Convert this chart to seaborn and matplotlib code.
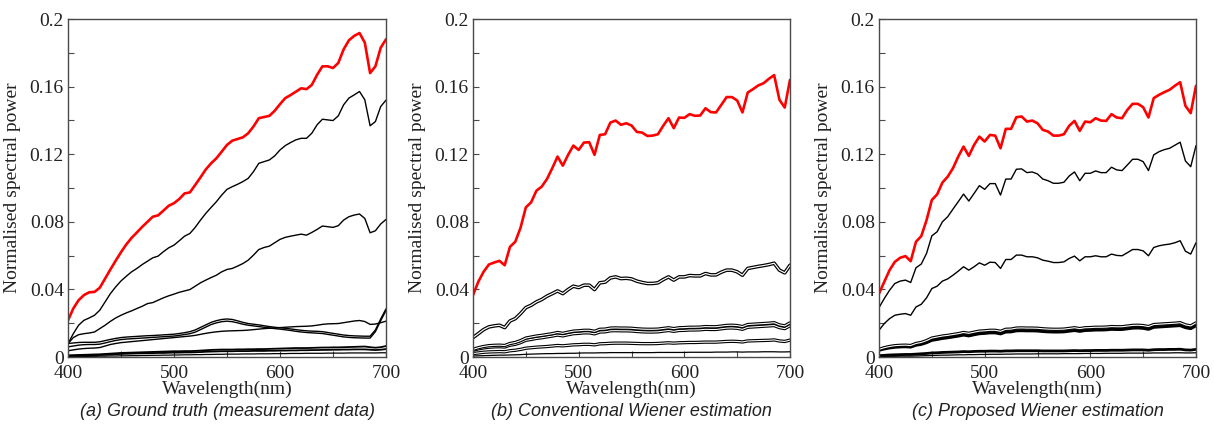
import matplotlib
matplotlib.use("Agg")
import matplotlib.pyplot as plt
import seaborn as sns
from matplotlib.ticker import FixedLocator, MultipleLocator

# ---------------- data ----------------
WAVELENGTH = list(range(400, 701, 5))  # nm, 61 samples

# (a) Ground truth (measurement data)
A_RED = [.0217, .0287, .0336, .0366, .0383, .0385, .0410, .0464, .0518, .0570,
         .0620, .0666, .0705, .0737, .0770, .0800, .0830, .0838, .0866, .0895,
         .0910, .0935, .0968, .0974, .1018, .1063, .1110, .1146, .1176, .1215,
         .1255, .1280, .1290, .1300, .1324, .1364, .1413, .1420, .1427, .1457,
         .1496, .1532, .1550, .1570, .1590, .1585, .1610, .1670, .1720, .1720,
         .1710, .1740, .1820, .1874, .1900, .1917, .1860, .1680, .1720, .1830,
         .1880]
A_BLK1 = [.0079, .0138, .0188, .0217, .0231, .0247, .0277, .0326, .0375, .0415,
          .0450, .0478, .0504, .0524, .0547, .0567, .0587, .0597, .0623, .0646,
          .0662, .0688, .0715, .0731, .0767, .0810, .0850, .0885, .0919, .0958,
          .0992, .1008, .1022, .1038, .1057, .1097, .1146, .1156, .1166, .1190,
          .1225, .1251, .1269, .1285, .1294, .1294, .1324, .1374, .1407, .1403,
          .1399, .1427, .1492, .1532, .1551, .1571, .1522, .1368, .1393, .1482,
          .1520]
A_BLK2 = [.0079, .0115, .0132, .0138, .0142, .0148, .0168, .0188, .0211, .0231,
          .0247, .0261, .0273, .0287, .0300, .0316, .0322, .0336, .0350, .0362,
          .0372, .0383, .0391, .0399, .0419, .0439, .0455, .0470, .0484, .0504,
          .0518, .0524, .0538, .0553, .0573, .0603, .0636, .0648, .0656, .0676,
          .0696, .0708, .0715, .0721, .0727, .0721, .0737, .0755, .0775, .0771,
          .0767, .0777, .0810, .0830, .0840, .0846, .0820, .0735, .0747, .0787,
          .0814]
A_BLK3 = [.0080, .0083, .0086, .0087, .0087, .0087, .0090, .0097, .0104, .0110,
          .0115, .0118, .0120, .0122, .0124, .0126, .0127, .0129, .0131, .0133,
          .0135, .0139, .0144, .0150, .0160, .0175, .0190, .0205, .0215, .0222,
          .0225, .0222, .0214, .0205, .0198, .0194, .0190, .0185, .0180, .0176,
          .0173, .0170, .0166, .0162, .0158, .0155, .0153, .0152, .0150, .0145,
          .0140, .0135, .0130, .0127, .0125, .0124, .0123, .0123, .0160, .0225,
          .0285]
A_BLK4 = [.0060, .0065, .0070, .0073, .0074, .0074, .0076, .0083, .0091, .0098,
          .0103, .0106, .0108, .0110, .0112, .0114, .0116, .0118, .0120, .0122,
          .0124, .0128, .0133, .0138, .0147, .0162, .0177, .0192, .0202, .0209,
          .0212, .0209, .0202, .0194, .0188, .0184, .0180, .0176, .0172, .0168,
          .0165, .0161, .0157, .0152, .0148, .0145, .0143, .0141, .0139, .0134,
          .0129, .0124, .0119, .0116, .0114, .0113, .0112, .0112, .0150, .0215,
          .0275]
A_BLK5 = [.0037, .0042, .0047, .0050, .0052, .0053, .0056, .0065, .0074, .0080,
          .0085, .0088, .0091, .0094, .0097, .0100, .0103, .0106, .0109, .0112,
          .0115, .0118, .0121, .0124, .0128, .0134, .0140, .0145, .0149, .0152,
          .0154, .0155, .0156, .0157, .0159, .0162, .0165, .0168, .0170, .0172,
          .0174, .0176, .0178, .0180, .0181, .0182, .0184, .0188, .0193, .0196,
          .0197, .0198, .0203, .0208, .0213, .0216, .0210, .0193, .0195, .0203,
          .0212]
A_LOW1 = [.0010, .0011, .0012, .0013, .0014, .0015, .0016, .0018, .0020, .0022,
          .0024, .0025, .0026, .0027, .0028, .0029, .0030, .0031, .0032, .0033,
          .0034, .0034, .0035, .0035, .0036, .0038, .0040, .0042, .0043, .0044,
          .0044, .0044, .0045, .0045, .0046, .0046, .0047, .0047, .0048, .0049,
          .0050, .0051, .0052, .0053, .0053, .0053, .0054, .0055, .0056, .0056,
          .0057, .0057, .0058, .0059, .0060, .0061, .0062, .0058, .0055, .0058,
          .0065]
A_LOW2 = [.0006, .0007, .0008, .0009, .0010, .0011, .0012, .0013, .0015, .0017,
          .0018, .0019, .0020, .0021, .0022, .0022, .0023, .0024, .0024, .0025,
          .0026, .0026, .0027, .0027, .0028, .0029, .0031, .0032, .0033, .0034,
          .0034, .0034, .0035, .0035, .0035, .0036, .0036, .0036, .0037, .0037,
          .0038, .0038, .0039, .0039, .0040, .0040, .0041, .0041, .0042, .0042,
          .0043, .0043, .0044, .0044, .0045, .0045, .0045, .0043, .0041, .0043,
          .0047]
A_LOW3 = [.0002, .0002, .0003, .0003, .0004, .0004, .0005, .0005, .0006, .0006,
          .0007, .0007, .0008, .0008, .0009, .0009, .0010, .0010, .0011, .0011,
          .0012, .0012, .0013, .0013, .0014, .0014, .0015, .0015, .0016, .0016,
          .0017, .0017, .0017, .0018, .0018, .0018, .0019, .0019, .0019, .0020,
          .0020, .0020, .0021, .0021, .0021, .0022, .0022, .0022, .0022, .0023,
          .0023, .0023, .0023, .0024, .0024, .0024, .0024, .0024, .0024, .0025,
          .0025]

# (b) Conventional Wiener estimation
B_RED = [.0366, .0445, .0504, .0547, .0559, .0569, .0543, .0652, .0682, .0765,
         .0885, .0915, .0984, .1008, .1053, .1117, .1186, .1132, .1196, .1251,
         .1225, .1269, .1271, .1196, .1314, .1318, .1387, .1399, .1374, .1383,
         .1370, .1332, .1328, .1308, .1310, .1318, .1368, .1413, .1354, .1417,
         .1415, .1437, .1427, .1429, .1472, .1449, .1447, .1492, .1538, .1538,
         .1518, .1447, .1565, .1585, .1607, .1620, .1646, .1668, .1522, .1476,
         .1640]
B_BLK1 = [.0115, .0138, .0162, .0178, .0184, .0188, .0174, .0213, .0227, .0257,
          .0292, .0306, .0326, .0340, .0360, .0375, .0391, .0375, .0399, .0419,
          .0411, .0425, .0425, .0399, .0439, .0443, .0468, .0474, .0464, .0466,
          .0462, .0449, .0441, .0435, .0435, .0439, .0458, .0474, .0455, .0474,
          .0474, .0482, .0480, .0480, .0494, .0486, .0486, .0502, .0514, .0514,
          .0504, .0484, .0524, .0530, .0536, .0541, .0547, .0555, .0514, .0498,
          .0543]
B_BLK2 = [.0045, .0055, .0062, .0067, .0069, .0070, .0068, .0080, .0086, .0097,
          .0112, .0118, .0124, .0128, .0133, .0138, .0145, .0140, .0147, .0153,
          .0155, .0158, .0158, .0152, .0164, .0165, .0171, .0172, .0171, .0171,
          .0170, .0167, .0165, .0164, .0164, .0165, .0169, .0173, .0168, .0173,
          .0174, .0176, .0176, .0177, .0180, .0179, .0179, .0183, .0187, .0188,
          .0186, .0180, .0192, .0194, .0196, .0198, .0200, .0203, .0190, .0184,
          .0202]
B_BLK3 = [.0040, .0048, .0054, .0058, .0060, .0061, .0059, .0070, .0075, .0085,
          .0099, .0104, .0110, .0114, .0119, .0124, .0130, .0125, .0132, .0138,
          .0140, .0143, .0143, .0137, .0148, .0149, .0155, .0156, .0155, .0155,
          .0154, .0151, .0149, .0148, .0148, .0149, .0153, .0157, .0152, .0157,
          .0158, .0160, .0160, .0161, .0164, .0163, .0163, .0167, .0171, .0172,
          .0170, .0164, .0176, .0178, .0180, .0182, .0184, .0186, .0174, .0168,
          .0185]
B_BLK4 = [.0020, .0024, .0028, .0030, .0031, .0032, .0031, .0037, .0040, .0045,
          .0052, .0055, .0058, .0060, .0062, .0065, .0068, .0066, .0069, .0072,
          .0073, .0075, .0075, .0072, .0078, .0079, .0081, .0082, .0082, .0082,
          .0081, .0080, .0079, .0079, .0079, .0080, .0082, .0084, .0082, .0084,
          .0085, .0086, .0086, .0087, .0088, .0088, .0088, .0090, .0092, .0093,
          .0092, .0089, .0095, .0096, .0097, .0098, .0099, .0101, .0095, .0092,
          .0100]
B_LOW = [.0006, .0007, .0008, .0009, .0010, .0011, .0011, .0012, .0013, .0014,
         .0016, .0017, .0018, .0019, .0020, .0020, .0021, .0021, .0022, .0022,
         .0023, .0024, .0024, .0024, .0025, .0025, .0026, .0026, .0026, .0026,
         .0026, .0026, .0026, .0026, .0026, .0027, .0027, .0027, .0027, .0027,
         .0027, .0028, .0028, .0028, .0028, .0028, .0029, .0029, .0029, .0030,
         .0030, .0029, .0030, .0030, .0030, .0031, .0031, .0031, .0030, .0030,
         .0031]

# (c) Proposed Wiener estimation
C_RED = [.0375, .0445, .0514, .0563, .0587, .0597, .0567, .0682, .0715, .0810,
         .0929, .0962, .1032, .1067, .1117, .1186, .1245, .1190, .1255, .1304,
         .1275, .1314, .1310, .1235, .1350, .1350, .1419, .1423, .1393, .1399,
         .1383, .1344, .1334, .1310, .1310, .1318, .1368, .1397, .1338, .1393,
         .1389, .1413, .1399, .1397, .1437, .1417, .1413, .1462, .1498, .1498,
         .1478, .1417, .1532, .1551, .1567, .1581, .1605, .1626, .1486, .1443,
         .1605]
C_BLK1 = [.0292, .0346, .0395, .0435, .0449, .0455, .0441, .0528, .0550, .0613,
          .0717, .0741, .0800, .0830, .0875, .0919, .0964, .0923, .0968, .1014,
          .0992, .1026, .1026, .0958, .1053, .1053, .1111, .1113, .1091, .1095,
          .1083, .1053, .1043, .1028, .1028, .1034, .1071, .1095, .1043, .1087,
          .1087, .1101, .1091, .1091, .1123, .1107, .1103, .1136, .1170, .1170,
          .1156, .1103, .1196, .1215, .1227, .1235, .1253, .1271, .1160, .1126,
          .1251]
C_BLK2 = [.0158, .0198, .0227, .0247, .0253, .0257, .0247, .0296, .0312, .0350,
          .0405, .0419, .0449, .0462, .0484, .0508, .0534, .0514, .0534, .0557,
          .0543, .0561, .0559, .0524, .0577, .0577, .0603, .0603, .0593, .0593,
          .0587, .0573, .0567, .0559, .0559, .0563, .0583, .0597, .0569, .0593,
          .0593, .0599, .0593, .0593, .0609, .0601, .0599, .0617, .0636, .0636,
          .0628, .0599, .0648, .0658, .0664, .0668, .0676, .0688, .0626, .0609,
          .0676]
C_BLK3 = B_BLK2
C_BLK4 = B_BLK3
C_LOW1 = [.0008, .0010, .0012, .0013, .0014, .0015, .0015, .0017, .0019, .0021,
          .0024, .0025, .0027, .0028, .0029, .0030, .0032, .0031, .0033, .0034,
          .0034, .0035, .0035, .0034, .0036, .0036, .0037, .0037, .0037, .0037,
          .0037, .0036, .0036, .0036, .0036, .0036, .0037, .0038, .0037, .0038,
          .0038, .0039, .0039, .0039, .0040, .0040, .0040, .0041, .0042, .0042,
          .0042, .0040, .0043, .0044, .0044, .0045, .0045, .0046, .0042, .0041,
          .0045]
C_LOW2 = [.0003, .0003, .0004, .0004, .0005, .0005, .0005, .0006, .0007, .0008,
          .0009, .0010, .0011, .0011, .0012, .0013, .0013, .0014, .0014, .0015,
          .0015, .0016, .0016, .0016, .0017, .0017, .0018, .0018, .0018, .0018,
          .0019, .0019, .0019, .0019, .0019, .0020, .0020, .0020, .0020, .0021,
          .0021, .0021, .0021, .0022, .0022, .0022, .0022, .0023, .0023, .0023,
          .0023, .0023, .0024, .0024, .0024, .0024, .0025, .0025, .0024, .0024,
          .0025]

CAPTIONS = ["(a) Ground truth (measurement data)",
            "(b) Conventional Wiener estimation",
            "(c) Proposed Wiener estimation"]
XTICKS = [400, 500, 600, 700]
YTICKS = [0, 0.04, 0.08, 0.12, 0.16, 0.2]
YTICKLABELS = ["0", "0.04", "0.08", "0.12", "0.16", "0.2"]

# ---------------- style ----------------
sns.set_theme(style="white")
plt.rcParams["font.family"] = ["Liberation Serif", "DejaVu Serif"]

W, H = 1214, 424
fig = plt.figure(figsize=(W / 100, H / 100), dpi=100)
PANELS = [(68, 386), (473, 790), (879, 1196)]
TOP, BOTTOM = 19, 357

SPINE = "#4a4a4a"
TEXT = "#222222"


def line(ax, y, color="black", lw=1.0, double=False):
    sns.lineplot(x=WAVELENGTH, y=y, ax=ax, color=color, linewidth=lw,
                 legend=False, estimator=None, sort=False)
    if double:
        sns.lineplot(x=WAVELENGTH, y=y, ax=ax, color="white", linewidth=lw * 0.33,
                     legend=False, estimator=None, sort=False)


series = [
    # panel a
    [(A_LOW3, "black", 0.9, False), (A_LOW2, "black", 1.3, False), (A_LOW1, "black", 1.3, False),
     (A_BLK5, "black", 1.0, False), (A_BLK4, "black", 1.0, False), (A_BLK3, "black", 1.0, False),
     (A_BLK2, "black", 1.0, False), (A_BLK1, "black", 1.0, False), (A_RED, "#ff0000", 1.9, False)],
    # panel b
    [(B_LOW, "black", 0.9, False), (B_BLK4, "black", 2.4, True), (B_BLK3, "black", 2.4, True),
     (B_BLK2, "black", 2.4, True), (B_BLK1, "black", 2.6, True), (B_RED, "#ff0000", 1.9, False)],
    # panel c
    [(C_LOW2, "black", 0.9, False), (C_LOW1, "black", 2.0, False), (C_BLK4, "black", 2.2, False),
     (C_BLK3, "black", 2.4, True), (C_BLK2, "black", 1.0, False), (C_BLK1, "black", 1.0, False),
     (C_RED, "#ff0000", 1.9, False)],
]

for i, (l, r) in enumerate(PANELS):
    ax = fig.add_axes([l / W, 1 - BOTTOM / H, (r - l) / W, (BOTTOM - TOP) / H])
    for y, c, lw, dbl in series[i]:
        line(ax, y, c, lw, dbl)
    ax.set_xlim(400, 700)
    ax.set_ylim(0, 0.2)
    ax.xaxis.set_major_locator(FixedLocator(XTICKS))
    ax.xaxis.set_minor_locator(MultipleLocator(50))
    ax.yaxis.set_major_locator(FixedLocator(YTICKS))
    ax.set_yticklabels(YTICKLABELS)
    ax.yaxis.set_minor_locator(MultipleLocator(0.02))
    ax.tick_params(which="both", direction="in", bottom=True, left=True,
                   top=False, right=False, length=4, width=0.8, color=SPINE)
    ax.tick_params(axis="x", which="major", labelsize=14, labelcolor=TEXT, pad=5.8)
    ax.tick_params(axis="y", which="major", labelsize=14, labelcolor=TEXT, pad=3)
    for s in ax.spines.values():
        s.set_color(SPINE)
        s.set_linewidth(1.0)
    ax.set_xlabel("Wavelength(nm)", fontsize=14, color=TEXT, labelpad=-1)
    ax.set_ylabel("Normalised spectral power", fontsize=14, color=TEXT, labelpad=6)
    fig.text((l + r) / 2 / W, 1 - 411 / H, CAPTIONS[i], ha="center", va="center",
             fontsize=13, style="italic", color=TEXT,
             family=["Liberation Sans", "DejaVu Sans"])

fig.savefig("out.png", dpi=100)
